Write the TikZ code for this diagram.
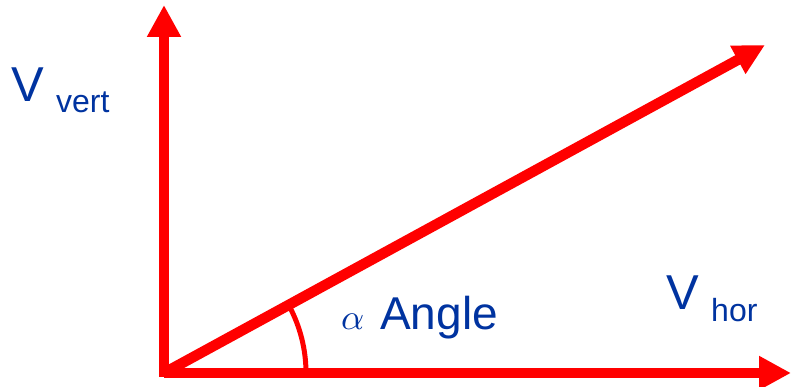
\documentclass[tikz,border=0pt]{standalone}
\usepackage{fontspec}
\setmainfont{Liberation Sans}
\usetikzlibrary{arrows.meta}
\definecolor{vred}{RGB}{255,0,0}
\definecolor{vblue}{RGB}{0,51,160}
\tikzset{
  vec/.style={draw=vred, line width=10.5pt, -{Triangle[length=32pt,width=32pt]}},
  lbl/.style={inner sep=0pt, anchor=base west, text=vblue},
}
\begin{document}
\begin{tikzpicture}[x=1pt,y=1pt]
\useasboundingbox (0,0) rectangle (792,387);
\coordinate (O) at (164,14);
\coordinate (top) at (164,382);
\coordinate (right) at (791,14);
\coordinate (tip) at (765,342);
\draw[vec] ([yshift=-4pt]O) -- (top);
\draw[vec] (O) -- (right);
\draw[vec, -{Triangle[length=31pt,width=30pt]}] (O) -- (tip);
\draw[vred, line width=5pt] ([xshift=142pt]O) arc[start angle=0, end angle=28.4, radius=142pt];
\node[lbl, font=\fontsize{49}{49}\selectfont] (vv) at (11,285) {V};
\node[lbl, font=\fontsize{32}{32}\selectfont] (vert) at (56,274) {vert};
\node[lbl, font=\fontsize{49}{49}\selectfont] (vh) at (666,77) {V};
\node[lbl, font=\fontsize{32}{32}\selectfont] (hor) at (711,65) {hor};
\node[lbl] (alpha) at (341,57) {\scalebox{3.6}{$\alpha$}};
\node[lbl, font=\fontsize{46}{46}\selectfont] (angle) at (380,57) {Angle};
\end{tikzpicture}
\end{document}
